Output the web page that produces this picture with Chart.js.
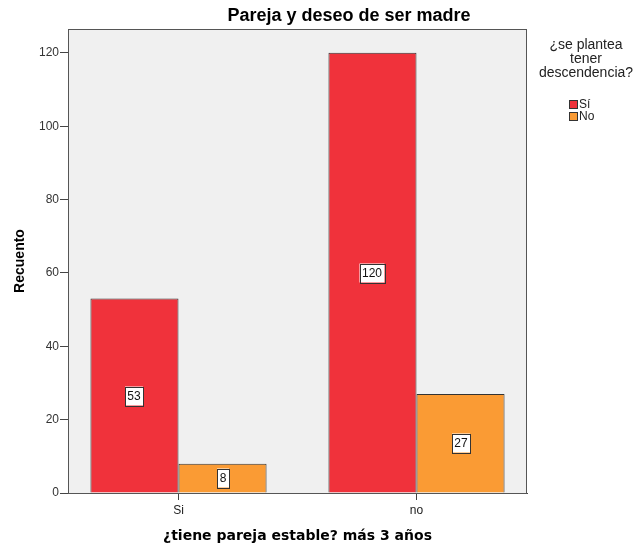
<!DOCTYPE html>
<html>
<head>
<meta charset="utf-8">
<script src="https://cdn.jsdelivr.net/npm/chart.js@4.4.0/dist/chart.umd.min.js"></script>
<style>
  html, body { margin: 0; padding: 0; background: #fff; }
  #wrap { width: 633px; height: 548px; }
</style>
</head>
<body>
<div id="wrap"><canvas id="myChart"></canvas></div>
<script>
const categories = ['Si', 'no'];
const seriesNames = ['Sí', 'No'];
const valuesSi = [53, 120];
const valuesNo = [8, 27];
const yTicks = [0, 20, 40, 60, 80, 100, 120];

const FONT = '"Liberation Sans", Arial, sans-serif';

// fondo gris y marco del area del grafico
const plotFrame = {
  id: 'plotFrame',
  beforeDraw(chart) {
    const a = chart.chartArea, c = chart.ctx;
    c.save();
    c.fillStyle = '#f0f0f0';
    c.fillRect(a.left, a.top, a.right - a.left, a.bottom - a.top);
    c.restore();
  },
  afterDraw(chart) {
    const a = chart.chartArea, c = chart.ctx;
    c.save();
    c.strokeStyle = '#555';
    c.lineWidth = 1;
    c.strokeRect(a.left + 0.5, a.top + 0.5, a.right - a.left - 1, a.bottom - a.top);
    c.restore();
  }
};

// etiquetas con el valor en cajitas blancas
const boxLabels = {
  id: 'boxLabels',
  afterDatasetsDraw(chart) {
    const c = chart.ctx;
    c.save();
    c.font = '12px ' + FONT;
    c.textAlign = 'center';
    c.textBaseline = 'middle';
    chart.data.datasets.forEach((ds, i) => {
      chart.getDatasetMeta(i).data.forEach((bar, j) => {
        const txt = String(ds.data[j].y);
        const cx = Math.round(bar.x);
        const cy = Math.round((bar.y + bar.base) / 2);
        const w = Math.round(c.measureText(txt).width) + 5;
        const h = 19;
        c.fillStyle = '#fff';
        c.fillRect(cx - w / 2, cy - h / 2, w, h);
        c.strokeStyle = '#333';
        c.lineWidth = 1;
        c.strokeRect(Math.round(cx - w / 2) + 0.5, Math.round(cy - h / 2) + 0.5, w, h);
        c.fillStyle = '#111';
        c.fillText(txt, cx, cy + 1);
      });
    });
    c.restore();
  }
};

// titulo y leyenda a la manera de SPSS
const sideText = {
  id: 'sideText',
  afterDraw(chart) {
    const c = chart.ctx;
    c.save();
    c.fillStyle = '#000';
    c.font = 'bold 18px ' + FONT;
    c.textAlign = 'center';
    c.textBaseline = 'middle';
    c.fillText('Pareja y deseo de ser madre', 349, 16);

    const lx = 586;
    c.fillStyle = '#222';
    c.font = '14px ' + FONT;
    ['¿se plantea', 'tener', 'descendencia?'].forEach((t, i) => c.fillText(t, lx, 45 + i * 14));

    c.font = '12px ' + FONT;
    c.textAlign = 'left';
    chart.data.datasets.forEach((ds, i) => {
      const y = 104 + i * 12;
      c.fillStyle = ds.backgroundColor;
      c.fillRect(569, y - 4, 9, 9);
      c.strokeStyle = '#333';
      c.strokeRect(569.5, y - 3.5, 8, 8);
      c.fillStyle = '#222';
      c.fillText(ds.label, 579, y + 1);
    });
    c.restore();
  }
};

new Chart(document.getElementById('myChart'), {
  type: 'bar',
  data: {
    datasets: [{
      label: seriesNames[0],
      data: valuesSi.map((v, i) => ({ x: i, y: v })),
      backgroundColor: '#f0323b',
      borderColor: '#333',
      borderWidth: 1,
      categoryPercentage: 0.74,
      barPercentage: 1.0
    }, {
      label: seriesNames[1],
      data: valuesNo.map((v, i) => ({ x: i, y: v })),
      backgroundColor: '#fa9b34',
      borderColor: '#333',
      borderWidth: 1,
      categoryPercentage: 0.74,
      barPercentage: 1.0
    }]
  },
  options: {
    responsive: true,
    maintainAspectRatio: false,
    animation: false,
    layout: { padding: { top: 29, right: 106, left: 0, bottom: 0 } },
    plugins: {
      legend: { display: false },
      title: { display: false },
      tooltip: { enabled: false }
    },
    scales: {
      x: {
        type: 'linear',
        min: -0.4643,
        max: 1.4643,
        offset: false,
        afterBuildTicks: s => { s.ticks = categories.map((c, i) => ({ value: i })); },
        afterFit: s => { s.height = 55; },
        ticks: {
          callback: v => categories[v],
          color: '#222',
          font: { family: FONT, size: 12 },
          padding: 3,
          maxRotation: 0
        },
        grid: { drawOnChartArea: false, offset: false, tickLength: 7, tickColor: '#444' },
        border: { display: true, color: '#444' },
        title: {
          display: true,
          text: '¿tiene pareja estable? más 3 años',
          color: '#000',
          font: { family: '"DejaVu Sans", Verdana, sans-serif', size: 14, weight: 'bold' },
          padding: { top: 0, bottom: 3 }
        }
      },
      y: {
        min: 0,
        max: 126.5,
        afterBuildTicks: s => { s.ticks = yTicks.map(v => ({ value: v })); },
        afterFit: s => { s.width = 68; },
        ticks: {
          color: '#333',
          font: { family: FONT, size: 12 },
          padding: 1
        },
        grid: { drawOnChartArea: false, tickLength: 8, tickColor: '#444' },
        border: { display: true, color: '#444' },
        title: {
          display: true,
          text: 'Recuento',
          color: '#000',
          font: { family: FONT, size: 14, weight: 'bold' },
          padding: { top: 12, bottom: 0 }
        }
      }
    }
  },
  plugins: [plotFrame, boxLabels, sideText]
});
</script>
</body>
</html>
